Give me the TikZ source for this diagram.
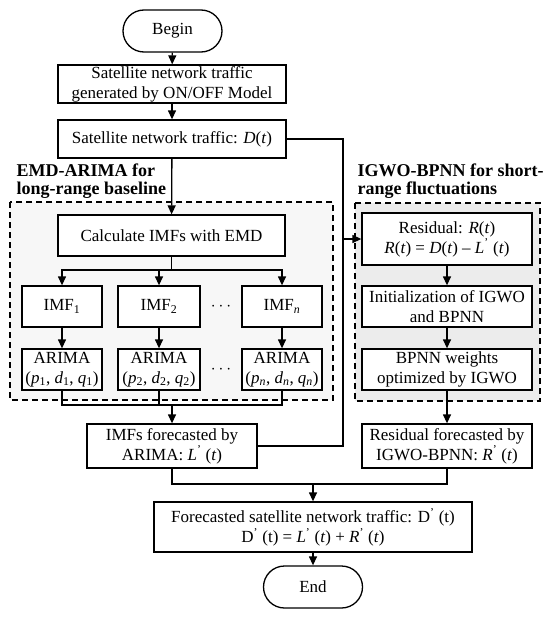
\documentclass[tikz,border=0pt]{standalone}
\usepackage{fontspec}
\setmainfont{Liberation Serif}
\usepackage{tikz}
\usetikzlibrary{arrows.meta,shapes.misc}
\newcommand{\pr}{\textsuperscript{\textquoteright}\ }
\newcommand{\vi}[1]{\textit{#1}}

\begin{document}
\begin{tikzpicture}[x=1pt, y=-1pt,
  box/.style={draw, fill=white, rectangle, align=center, inner sep=1pt,
              minimum width=170, minimum height=41, font=\fontsize{17}{20}\selectfont},
  term/.style={box, rounded rectangle, minimum width=101, minimum height=42},
  group/.style={draw, dashed, dash pattern=on 6pt off 4pt},
  title/.style={anchor=south west, align=left, inner sep=0pt,
                font=\fontsize{18}{17.5}\selectfont\bfseries},
  dots/.style={font=\fontsize{17}{20}\selectfont},
  arrow/.style={->, >={Triangle[length=9pt,width=8pt]}},
  line width=1.3pt
]
\useasboundingbox (0,0) rectangle (550,618);

% Dashed groups
\draw[group, fill=gray!6] (10,202) rectangle (333,400);
\draw[group, fill=gray!15] (355,203) rectangle (540,401);
\node[title] (tleft) at (16,199) {EMD-ARIMA for\\long-range baseline};
\node[title] (tright) at (357,199) {IGWO-BPNN for short-\\range fluctuations};

% Top
\node[term] (begin) at (172.5,31) {Begin};
\node[box, minimum width=228, minimum height=38] (gen) at (172,84)
  {Satellite network traffic\\generated by ON/OFF Model};
\node[box, minimum width=228, minimum height=38] (traf) at (172,139)
  {Satellite network traffic: \vi{D}(\vi{t})};

% EMD-ARIMA
\node[box, minimum width=227] (emd) at (171.5,235.5) {Calculate IMFs with EMD};
\node[box, minimum width=80] (imf1) at (62,306.5) {IMF\textsubscript{1}};
\node[box, minimum width=82] (imf2) at (159,306.5) {IMF\textsubscript{2}};
\node[box, minimum width=80] (imfn) at (282,306.5) {IMF\textsubscript{\vi{n}}};
\node[dots] (dimf) at (221,306.5) {$\cdots$};
\node[box, minimum width=80] (ar1) at (62,369.5)
  {ARIMA\\(\vi{p}\textsubscript{1}, \vi{d}\textsubscript{1}, \vi{q}\textsubscript{1})};
\node[box, minimum width=82] (ar2) at (159,369.5)
  {ARIMA\\(\vi{p}\textsubscript{2}, \vi{d}\textsubscript{2}, \vi{q}\textsubscript{2})};
\node[box, minimum width=80] (arn) at (282,369.5)
  {ARIMA\\(\vi{p}\textsubscript{\vi{n}}, \vi{d}\textsubscript{\vi{n}}, \vi{q}\textsubscript{\vi{n}})};
\node[dots] (dar) at (221,369.5) {$\cdots$};

% IGWO-BPNN
\node[box, minimum height=52] (res) at (447,239)
  {Residual: \vi{R}(\vi{t})\\\vi{R}(\vi{t}) = \vi{D}(\vi{t}) -- \vi{L}\pr(\vi{t})};
\node[box] (init) at (447,306.5) {Initialization of IGWO\\and BPNN};
\node[box] (bpnn) at (447,369.5) {BPNN weights\\optimized by IGWO};

% Forecasts
\node[box, minimum height=44] (lf) at (172,446) {IMFs forecasted by\\ARIMA: \vi{L}\pr(\vi{t})};
\node[box, minimum height=44] (rf) at (447,446) {Residual forecasted by\\IGWO-BPNN: \vi{R}\pr(\vi{t})};
\node[box, minimum width=318, minimum height=50] (fc) at (313,527)
  {Forecasted satellite network traffic: D\pr(t)\\D\pr(t) = \vi{L}\pr(\vi{t}) + \vi{R}\pr(\vi{t})};
\node[term] (end) at (313,587) {End};

% Junctions
\coordinate (split) at (171.5,270);
\coordinate (join) at (172,405);
\coordinate (rbus) at (343,239);
\coordinate (merge) at (313,484);

% Connectors
\draw[arrow] (begin) -- (gen);
\draw[arrow] (gen) -- (traf);
\draw[arrow] (traf) -- (emd);
\draw (emd) -- (split);
\draw[arrow] (split) -| (imf1);
\draw[arrow] (split) -| (imf2);
\draw[arrow] (split) -| (imfn);
\draw[arrow] (imf1) -- (ar1);
\draw[arrow] (imf2) -- (ar2);
\draw[arrow] (imfn) -- (arn);
\draw (ar1) |- (join);
\draw (ar2) |- (join);
\draw (arn) |- (join);
\draw[arrow] (join) -- (lf);
\draw (traf) -| (rbus);
\draw (lf) -| (rbus);
\draw[arrow] (rbus) -- (res);
\draw[arrow] (res) -- (init);
\draw[arrow] (init) -- (bpnn);
\draw[arrow] (bpnn) -- (rf);
\draw (lf) |- (merge);
\draw (rf) |- (merge);
\draw[arrow] (merge) -- (fc);
\draw[arrow] (fc) -- (end);

\end{tikzpicture}
\end{document}
